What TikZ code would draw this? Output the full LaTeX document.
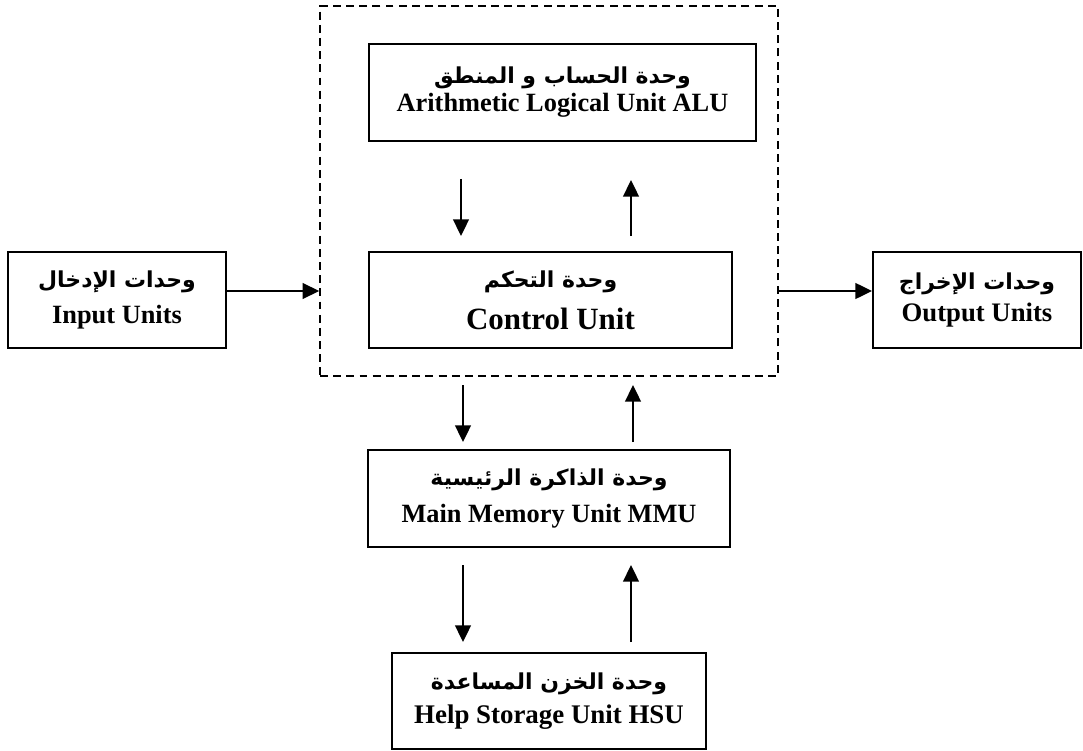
\documentclass[tikz,border=0pt]{standalone}
\usepackage{fontspec}
\setmainfont{Liberation Serif}
\newfontfamily\arabicfont[Script=Arabic]{DejaVu Sans}
\TeXXeTstate=1
\usetikzlibrary{arrows.meta}
\newcommand{\arline}[1]{{\arabicfont\bfseries\fontsize{12.5}{15}\selectfont\beginR #1\endR}}
\tikzset{
  unitbox/.style={draw, line width=1.1pt, align=center, inner sep=0pt},
  cpubox/.style={draw, line width=0.9pt, dash pattern=on 4.5pt off 3pt},
  flow/.style={line width=1.1pt, -{Triangle[length=9.5pt,width=9pt]}}
}
\begin{document}
\begin{tikzpicture}
\useasboundingbox (0,0) rectangle (21.66,15);
% the processor
\node[cpubox, minimum width=9.16cm, minimum height=7.4cm] (cpu) at (10.98,11.18) {};
\node[unitbox, minimum width=7.74cm, minimum height=1.94cm, font=\bfseries\fontsize{15}{16}\selectfont] (alu) at (11.25,13.15)
  {\arline{وحدة الحساب و المنطق}\\Arithmetic Logical Unit ALU};
\node[unitbox, minimum width=7.26cm, minimum height=1.92cm, font=\bfseries\fontsize{17.6}{24}\selectfont] (ctrl) at (11.01,9.0)
  {\arline{وحدة التحكم}\\Control Unit};
% outside units
\node[unitbox, minimum width=4.36cm, minimum height=1.92cm, font=\bfseries\fontsize{15}{21}\selectfont] (in) at (2.34,9.0)
  {\arline{وحدات الإدخال}\\Input Units};
\node[unitbox, minimum width=4.16cm, minimum height=1.92cm, font=\bfseries\fontsize{15.2}{18}\selectfont] (out) at (19.54,9.0)
  {\arline{وحدات الإخراج}\\Output Units};
\node[unitbox, minimum width=7.24cm, minimum height=1.94cm, font=\bfseries\fontsize{15}{20.5}\selectfont] (mmu) at (10.98,5.03)
  {\arline{وحدة الذاكرة الرئيسية}\\Main Memory Unit MMU};
\node[unitbox, minimum width=6.28cm, minimum height=1.92cm, font=\bfseries\fontsize{15.3}{19}\selectfont] (hsu) at (10.98,0.98)
  {\arline{وحدة الخزن المساعدة}\\Help Storage Unit HSU};

\coordinate (aluDa) at (9.22,11.42);  \coordinate (aluDb) at (9.22,10.28);
\coordinate (aluUa) at (12.62,10.28); \coordinate (aluUb) at (12.62,11.40);
\coordinate (memDa) at (9.26,7.30);   \coordinate (memDb) at (9.26,6.16);
\coordinate (memUa) at (12.66,6.16);  \coordinate (memUb) at (12.66,7.30);
\coordinate (hsuDa) at (9.26,3.70);   \coordinate (hsuDb) at (9.26,2.16);
\coordinate (hsuUa) at (12.62,2.16);  \coordinate (hsuUb) at (12.62,3.70);

\draw[flow] ([yshift=.18cm]in.east) -- ([yshift=.18cm]in.east -| cpu.west);
\draw[flow] ([yshift=.18cm]out.west -| cpu.east) -- ([yshift=.18cm]out.west);
\draw[flow] (aluDa) -- (aluDb);
\draw[flow] (aluUa) -- (aluUb);
\draw[flow] (memDa) -- (memDb);
\draw[flow] (memUa) -- (memUb);
\draw[flow] (hsuDa) -- (hsuDb);
\draw[flow] (hsuUa) -- (hsuUb);
\end{tikzpicture}
\end{document}
